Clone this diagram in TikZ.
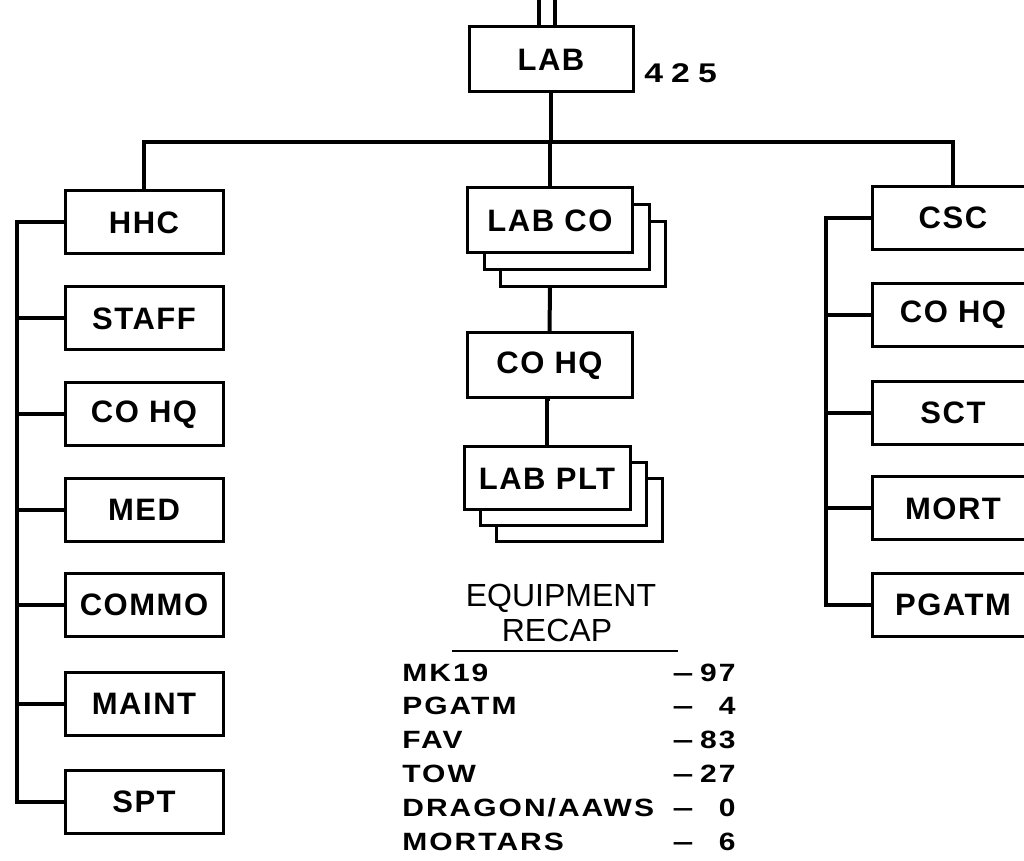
\documentclass[tikz,border=0pt]{standalone}
\usepackage{fontspec}
\setmainfont{Liberation Sans}
\newfontfamily\boxfont{Liberation Sans}[LetterSpace=5]
\newfontfamily\numfont{Liberation Sans}[FakeStretch=1.25,LetterSpace=30]
\newfontfamily\rowfont{Liberation Sans}[FakeStretch=1.2,LetterSpace=8]
\newfontfamily\dashfont{Liberation Sans}[FakeStretch=1.5]
\begin{document}
\begin{tikzpicture}[x=0.5pt,y=-0.5pt,
  box/.style={draw, line width=1.5pt, fill=white, inner sep=0pt,
    minimum width=80pt, minimum height=32pt,
    font=\boxfont\bfseries\fontsize{15.5}{18}\selectfont},
  lbox/.style={box, minimum width=79pt, minimum height=31.5pt},
  rbox/.style={box, minimum width=81pt, minimum height=31.5pt},
  cbox/.style={box, minimum width=82.5pt, minimum height=32.5pt},
  conn/.style={line width=2pt},
  eqhead/.style={inner sep=0pt, font=\fontsize{16}{18}\selectfont},
  eqrow/.style={inner sep=0pt, anchor=base west, font=\rowfont\bfseries\fontsize{12.5}{14}\selectfont},
  eqdash/.style={inner sep=0pt, anchor=base, font=\dashfont\bfseries\fontsize{12.5}{14}\selectfont},
  eqnum/.style={inner sep=0pt, anchor=base east, font=\rowfont\bfseries\fontsize{12.5}{14}\selectfont},
]
\useasboundingbox (0,0) rectangle (1024,861);
\clip (0,0) rectangle (1024,861);

% top
\node[cbox, minimum width=82pt] (lab) at (551,59.5) {LAB};
\node[inner sep=0pt, anchor=west, font=\numfont\bfseries\fontsize{13.5}{15}\selectfont] (num) at (644,73) {425};
\coordinate (t1) at (539,-2);
\coordinate (t2) at (555,-2);
\draw[conn] (t1) -- (t1 |- lab.north);
\draw[conn] (t2) -- (t2 |- lab.north);

% left column
\node[lbox] (hhc)   at (144,222.5) {HHC};
\node[lbox] (staff) at (144,318.5) {STAFF};
\node[lbox] (lcohq) at (144,414.5) {CO HQ};
\node[lbox] (med)   at (144,510) {MED};
\node[lbox] (commo) at (144,605) {COMMO};
\node[lbox] (maint) at (144,703.5) {MAINT};
\node[lbox] (spt)   at (144,801.5) {SPT};

% right column
\node[rbox] (csc)   at (953,218) {CSC};
\node[rbox] (rcohq) at (953,315) {CO HQ};
\node[rbox] (sct)   at (953,413) {SCT};
\node[rbox] (mort)  at (953,508.5) {MORT};
\node[rbox] (pgatm) at (953,604.5) {PGATM};

% center column
\node[cbox] (labco3) at (583,254) {};
\node[cbox] (labco2) at (567,237) {};
\node[cbox] (labco)  at (550,220.5) {LAB CO};
\node[cbox] (cohq)   at (549.5,365.5) {CO HQ};
\node[cbox, minimum width=83pt, minimum height=31.5pt] (labplt3) at (579,510.5) {};
\node[cbox, minimum width=83pt, minimum height=31.5pt] (labplt2) at (563,494.5) {};
\node[cbox, minimum width=83pt, minimum height=31.5pt] (labplt)  at (547,478.5) {LAB PLT};

% connectors
\coordinate (bus) at (551,142);
\draw[conn] (lab.south) -- (bus);
\draw[conn] (hhc.north) |- (bus) -| (csc.north);
\draw[conn] (labco.north) -- (labco.north |- bus);
\draw[conn] (labco.south |- labco3.south) -- (cohq.north);
\draw[conn] (cohq.south) -- (cohq.south -| labplt.north) -- (labplt.north);

\coordinate (lb) at (17,0);
\draw[conn] (hhc.west) -- (hhc.west -| lb) |- (spt.west);
\foreach \n in {staff,lcohq,med,commo,maint}
  \draw[conn] (\n.west) -- (\n.west -| lb);

\coordinate (rb) at (826,0);
\draw[conn] (csc.west) -- (csc.west -| rb) |- (pgatm.west);
\foreach \n in {rcohq,sct,mort}
  \draw[conn] (\n.west) -- (\n.west -| rb);

% equipment recap
\node[eqhead] (eq1) at (561,598) {EQUIPMENT};
\node[eqhead] (eq2) at (557,630) {RECAP};
\coordinate (ul1) at (452,651);
\coordinate (ul2) at (678,651);
\draw[line width=1pt] (ul1) -- (ul2);

\foreach \lab/\val [count=\i from 0] in {MK19/97, PGATM/4, FAV/83, TOW/27, DRAGON{/}AAWS/0, MORTARS/6} {
  \node[eqrow] (r\i) at (402,681+33.8*\i) {\lab};
  \node[eqdash] (d\i) at (683,681+33.8*\i) {–};
  \node[eqnum] (n\i) at (736,681+33.8*\i) {\val};
}
\end{tikzpicture}
\end{document}
